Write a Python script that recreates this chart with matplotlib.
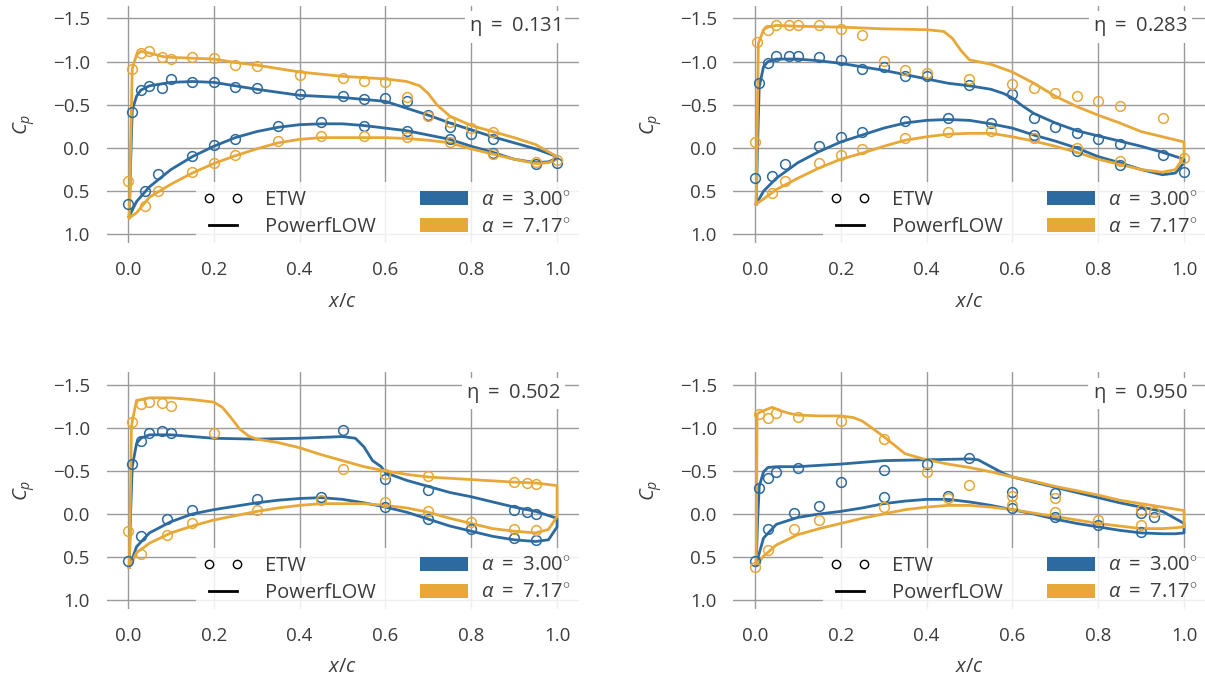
import matplotlib
matplotlib.use("Agg")
import matplotlib.pyplot as plt
from matplotlib.lines import Line2D
from matplotlib.patches import Patch
from matplotlib.legend_handler import HandlerLine2D
import numpy as np

plt.rcParams['font.family'] = ['Open Sans', 'DejaVu Sans']
plt.rcParams['mathtext.fontset'] = 'custom'
plt.rcParams['mathtext.rm'] = 'Open Sans'
plt.rcParams['mathtext.it'] = 'Open Sans:italic'

BLUE = '#2d6a9f'
ORANGE = '#e8a838'
TXT = '#3c3c3c'

ETAS = ['0.131', '0.283', '0.502', '0.950']
ALPHA_LABELS = [r'$\alpha\ =\ 3.00^{\circ}$', r'$\alpha\ =\ 7.17^{\circ}$']
XTICKS = [0.0, 0.2, 0.4, 0.6, 0.8, 1.0]
YTICKS = [-1.5, -1.0, -0.5, 0.0, 0.5, 1.0]

# ---------- PowerFLOW, lower surface (shared chord stations) ----------
LOWER_X = [0.003, 0.02, 0.05, 0.1, 0.15, 0.2, 0.25, 0.3, 0.35, 0.4, 0.45, 0.5,
           0.55, 0.6, 0.65, 0.7, 0.75, 0.8, 0.85, 0.9, 0.95, 0.98, 1.0]
P1_A3_LOW = [0.79, 0.62, 0.45, 0.25, 0.10, -0.02, -0.12, -0.19, -0.24, -0.27, -0.28, -0.28,
             -0.26, -0.23, -0.20, -0.15, -0.10, -0.02, 0.05, 0.13, 0.17, 0.16, 0.12]
P1_A7_LOW = [0.81, 0.75, 0.57, 0.42, 0.29, 0.18, 0.09, 0.01, -0.06, -0.10, -0.12, -0.12,
             -0.12, -0.12, -0.11, -0.09, -0.06, 0.01, 0.07, 0.13, 0.18, 0.17, 0.13]
P2_A3_LOW = [0.65, 0.50, 0.35, 0.17, 0.04, -0.07, -0.15, -0.23, -0.29, -0.32, -0.33, -0.32,
             -0.28, -0.23, -0.15, -0.08, 0.0, 0.10, 0.17, 0.25, 0.31, 0.29, 0.17]
P2_A7_LOW = [0.65, 0.59, 0.48, 0.35, 0.23, 0.13, 0.06, -0.02, -0.09, -0.13, -0.16, -0.17,
             -0.17, -0.13, -0.08, -0.02, 0.05, 0.13, 0.19, 0.25, 0.28, 0.25, 0.10]
P3_A3_LOW = [0.62, 0.38, 0.22, 0.09, 0.0, -0.05, -0.09, -0.13, -0.16, -0.18, -0.19, -0.17,
             -0.13, -0.08, -0.02, 0.06, 0.14, 0.20, 0.26, 0.30, 0.32, 0.30, 0.15]
P3_A7_LOW = [0.62, 0.45, 0.34, 0.22, 0.14, 0.07, 0.02, -0.03, -0.07, -0.10, -0.12, -0.12,
             -0.12, -0.10, -0.07, -0.02, 0.05, 0.11, 0.17, 0.20, 0.22, 0.18, 0.03]
P4_A3_LOW = [0.58, 0.28, 0.12, 0.04, 0.0, -0.03, -0.07, -0.12, -0.15, -0.17, -0.17, -0.14,
             -0.10, -0.05, 0.0, 0.06, 0.11, 0.15, 0.19, 0.22, 0.23, 0.23, 0.22]
P4_A7_LOW = [0.60, 0.49, 0.36, 0.24, 0.17, 0.11, 0.05, 0.0, -0.05, -0.08, -0.10, -0.10,
             -0.08, -0.05, -0.01, 0.03, 0.07, 0.11, 0.14, 0.17, 0.17, 0.16, 0.15]

# ---------- PowerFLOW, upper surface ----------
P1_A3_UP_X = [0.003, 0.006, 0.01, 0.02, 0.03, 0.05, 0.1, 0.15, 0.2, 0.25, 0.3, 0.4, 0.5,
              0.6, 0.65, 0.7, 0.75, 0.8, 0.85, 0.9, 0.95, 1.0]
P1_A3_UP = [0.79, 0.2, -0.44, -0.60, -0.67, -0.72, -0.76, -0.77, -0.76, -0.72, -0.68, -0.61,
            -0.585, -0.54, -0.46, -0.38, -0.29, -0.21, -0.13, -0.06, 0.01, 0.10]
P1_A7_UP_X = [0.003, 0.006, 0.01, 0.02, 0.03, 0.05, 0.08, 0.1, 0.2, 0.25, 0.3, 0.4, 0.5,
              0.6, 0.65, 0.68, 0.7, 0.72, 0.75, 0.8, 0.85, 0.9, 0.95, 1.0]
P1_A7_UP = [0.81, 0.0, -0.92, -1.08, -1.12, -1.10, -1.06, -1.05, -1.03, -0.99, -0.96, -0.88,
            -0.83, -0.80, -0.77, -0.72, -0.63, -0.50, -0.37, -0.26, -0.19, -0.12, -0.04, 0.10]

P2_A3_UP_X = [0.003, 0.006, 0.01, 0.02, 0.03, 0.05, 0.1, 0.15, 0.2, 0.25, 0.3, 0.35, 0.4,
              0.45, 0.5, 0.55, 0.58, 0.6, 0.62, 0.65, 0.7, 0.75, 0.8, 0.85, 0.9, 0.95, 1.0]
P2_A3_UP = [0.65, 0.0, -0.71, -0.94, -1.0, -1.03, -1.03, -1.01, -0.98, -0.94, -0.90, -0.85,
            -0.80, -0.75, -0.72, -0.68, -0.63, -0.58, -0.50, -0.40, -0.29, -0.20, -0.14,
            -0.08, -0.02, 0.05, 0.13]
P2_A7_UP_X = [0.003, 0.006, 0.008, 0.02, 0.03, 0.05, 0.1, 0.2, 0.3, 0.4, 0.44, 0.46, 0.48,
              0.5, 0.55, 0.6, 0.65, 0.7, 0.75, 0.8, 0.85, 0.9, 0.95, 1.0]
P2_A7_UP = [0.65, -0.5, -1.21, -1.37, -1.40, -1.42, -1.41, -1.40, -1.38, -1.37, -1.35, -1.27,
            -1.13, -1.02, -0.97, -0.88, -0.75, -0.60, -0.48, -0.38, -0.29, -0.19, -0.13, -0.07]

P3_A3_UP_X = [0.003, 0.006, 0.01, 0.02, 0.03, 0.05, 0.1, 0.15, 0.2, 0.3, 0.4, 0.5, 0.53,
              0.55, 0.57, 0.59, 0.6, 0.65, 0.7, 0.75, 0.8, 0.85, 0.9, 0.95, 1.0]
P3_A3_UP = [0.62, 0.0, -0.55, -0.82, -0.88, -0.92, -0.92, -0.90, -0.88, -0.87, -0.88, -0.90,
            -0.88, -0.78, -0.62, -0.55, -0.48, -0.39, -0.32, -0.25, -0.20, -0.14, -0.08,
            -0.03, 0.05]
P3_A7_UP_X = [0.003, 0.006, 0.008, 0.01, 0.02, 0.05, 0.1, 0.15, 0.2, 0.22, 0.24, 0.26, 0.28,
              0.3, 0.35, 0.4, 0.45, 0.5, 0.55, 0.6, 0.65, 0.7, 0.8, 0.9, 0.95, 1.0]
P3_A7_UP = [0.62, -0.3, -1.0, -1.08, -1.32, -1.35, -1.35, -1.33, -1.30, -1.24, -1.12, -0.99,
            -0.91, -0.87, -0.83, -0.77, -0.69, -0.62, -0.55, -0.50, -0.46, -0.43, -0.40,
            -0.37, -0.36, -0.33]

P4_A3_UP_X = [0.003, 0.006, 0.01, 0.02, 0.03, 0.05, 0.1, 0.2, 0.3, 0.4, 0.5, 0.52, 0.55,
              0.58, 0.6, 0.65, 0.7, 0.75, 0.8, 0.85, 0.9, 0.95, 1.0]
P4_A3_UP = [0.58, 0.1, -0.32, -0.49, -0.54, -0.55, -0.55, -0.58, -0.62, -0.63, -0.64, -0.63,
            -0.55, -0.47, -0.43, -0.37, -0.31, -0.25, -0.19, -0.13, -0.08, -0.03, 0.11]
P4_A7_UP_X = [0.003, 0.005, 0.01, 0.02, 0.04, 0.06, 0.08, 0.1, 0.15, 0.2, 0.23, 0.25, 0.27,
              0.3, 0.33, 0.35, 0.4, 0.45, 0.5, 0.55, 0.6, 0.65, 0.7, 0.75, 0.8, 0.85, 0.9,
              0.95, 1.0]
P4_A7_UP = [0.60, -1.16, -1.18, -1.20, -1.24, -1.20, -1.17, -1.15, -1.14, -1.14, -1.12, -1.08,
            -1.01, -0.90, -0.78, -0.70, -0.63, -0.58, -0.54, -0.49, -0.43, -0.38, -0.32,
            -0.27, -0.22, -0.16, -0.12, -0.08, -0.04]

# ---------- ETW experiment ----------
E1_A3_X = [0.01, 0.03, 0.05, 0.08, 0.1, 0.15, 0.2, 0.25, 0.3, 0.4, 0.5, 0.55, 0.6, 0.65, 0.7,
           0.75, 0.8, 0.85, 0.95, 1.0,
           0.0, 0.04, 0.07, 0.15, 0.2, 0.25, 0.35, 0.45, 0.55, 0.65, 0.75, 0.85]
E1_A3 = [-0.42, -0.67, -0.72, -0.70, -0.80, -0.77, -0.77, -0.71, -0.69, -0.62, -0.60, -0.57,
         -0.58, -0.55, -0.38, -0.24, -0.16, -0.10, 0.19, 0.17,
         0.65, 0.50, 0.30, 0.09, -0.03, -0.10, -0.26, -0.30, -0.26, -0.20, -0.10, 0.06]
E1_A7_X = [0.0, 0.01, 0.03, 0.05, 0.08, 0.1, 0.15, 0.2, 0.25, 0.3, 0.4, 0.5, 0.55, 0.6, 0.65,
           0.7, 0.75, 0.8, 0.85, 0.95, 1.0,
           0.04, 0.07, 0.15, 0.2, 0.25, 0.35, 0.45, 0.55, 0.65, 0.75, 0.85]
E1_A7 = [0.38, -0.91, -1.10, -1.12, -1.05, -1.03, -1.05, -1.04, -0.96, -0.95, -0.85, -0.81,
         -0.78, -0.76, -0.59, -0.37, -0.30, -0.23, -0.19, 0.16, 0.14,
         0.67, 0.50, 0.28, 0.17, 0.08, -0.08, -0.14, -0.14, -0.13, -0.07, 0.07]

E2_A3_X = [0.01, 0.03, 0.05, 0.08, 0.1, 0.15, 0.2, 0.25, 0.3, 0.35, 0.4, 0.5, 0.6, 0.65, 0.7,
           0.75, 0.8, 0.85, 0.95, 1.0,
           0.0, 0.04, 0.07, 0.15, 0.2, 0.25, 0.35, 0.45, 0.55, 0.65, 0.75, 0.85]
E2_A3 = [-0.75, -0.98, -1.06, -1.07, -1.07, -1.05, -1.02, -0.92, -0.94, -0.83, -0.83, -0.73,
         -0.63, -0.35, -0.24, -0.17, -0.10, -0.05, 0.08, 0.28,
         0.35, 0.33, 0.19, -0.02, -0.13, -0.18, -0.31, -0.35, -0.29, -0.15, 0.04, 0.20]
E2_A7_X = [0.005, 0.03, 0.05, 0.08, 0.1, 0.15, 0.2, 0.25, 0.3, 0.35, 0.4, 0.5, 0.6, 0.65, 0.7,
           0.75, 0.8, 0.85, 0.95, 1.0,
           0.0, 0.04, 0.07, 0.15, 0.2, 0.25, 0.35, 0.45, 0.55, 0.65, 0.75, 0.85]
E2_A7 = [-1.23, -1.37, -1.42, -1.42, -1.42, -1.42, -1.38, -1.31, -1.01, -0.90, -0.87, -0.80,
         -0.74, -0.69, -0.64, -0.60, -0.55, -0.49, -0.35, 0.12,
         -0.07, 0.52, 0.38, 0.17, 0.08, 0.01, -0.12, -0.18, -0.20, -0.12, 0.0, 0.15]

E3_A3_X = [0.01, 0.03, 0.05, 0.08, 0.1, 0.5, 0.6, 0.7, 0.9, 0.93, 0.95,
           0.0, 0.03, 0.09, 0.15, 0.3, 0.45, 0.6, 0.7, 0.8, 0.9, 0.95]
E3_A3 = [-0.58, -0.85, -0.94, -0.96, -0.94, -0.98, -0.41, -0.28, -0.05, -0.02, 0.0,
         0.55, 0.26, 0.06, -0.05, -0.17, -0.20, -0.08, 0.06, 0.18, 0.28, 0.30]
E3_A7_X = [0.01, 0.03, 0.05, 0.08, 0.1, 0.2, 0.5, 0.6, 0.7, 0.9, 0.93, 0.95,
           0.0, 0.03, 0.09, 0.15, 0.3, 0.45, 0.6, 0.7, 0.8, 0.9, 0.95]
E3_A7 = [-1.07, -1.28, -1.30, -1.29, -1.26, -0.94, -0.52, -0.47, -0.44, -0.37, -0.36, -0.35,
         0.20, 0.47, 0.24, 0.11, -0.05, -0.16, -0.14, -0.04, 0.09, 0.18, 0.19]

E4_A3_X = [0.01, 0.03, 0.05, 0.1, 0.2, 0.3, 0.4, 0.5, 0.6, 0.7, 0.9, 0.93,
           0.0, 0.03, 0.09, 0.15, 0.3, 0.45, 0.6, 0.7, 0.8, 0.9]
E4_A3 = [-0.30, -0.42, -0.49, -0.53, -0.37, -0.51, -0.58, -0.65, -0.25, -0.24, -0.01, 0.03,
         0.55, 0.18, -0.01, -0.09, -0.20, -0.21, -0.07, 0.03, 0.13, 0.21]
E4_A7_X = [0.01, 0.03, 0.05, 0.1, 0.2, 0.3, 0.4, 0.5, 0.6, 0.7, 0.9, 0.93,
           0.0, 0.03, 0.09, 0.15, 0.3, 0.45, 0.6, 0.7, 0.8, 0.9]
E4_A7 = [-1.16, -1.12, -1.17, -1.13, -1.08, -0.87, -0.49, -0.34, -0.21, -0.18, -0.05, -0.02,
         0.62, 0.42, 0.18, 0.07, -0.08, -0.18, -0.10, -0.02, 0.07, 0.13]

PANELS = [
    (P1_A3_UP_X, P1_A3_UP, P1_A3_LOW, E1_A3_X, E1_A3, P1_A7_UP_X, P1_A7_UP, P1_A7_LOW, E1_A7_X, E1_A7),
    (P2_A3_UP_X, P2_A3_UP, P2_A3_LOW, E2_A3_X, E2_A3, P2_A7_UP_X, P2_A7_UP, P2_A7_LOW, E2_A7_X, E2_A7),
    (P3_A3_UP_X, P3_A3_UP, P3_A3_LOW, E3_A3_X, E3_A3, P3_A7_UP_X, P3_A7_UP, P3_A7_LOW, E3_A7_X, E3_A7),
    (P4_A3_UP_X, P4_A3_UP, P4_A3_LOW, E4_A3_X, E4_A3, P4_A7_UP_X, P4_A7_UP, P4_A7_LOW, E4_A7_X, E4_A7),
]


class LeftLineHandler(HandlerLine2D):
    """Draw the line/marker handle in the left part of the handle box."""
    def get_xdata(self, legend, xdescent, ydescent, width, height, fontsize):
        n = self.get_numpoints(legend)
        x = np.linspace(-xdescent + 0.10 * width, -xdescent + 0.68 * width, n)
        return x, x


fig = plt.figure(figsize=(12.05, 6.81), dpi=100)
positions = [
    [0.0884, 0.6432, 0.3917, 0.3487],
    [0.6087, 0.6432, 0.3917, 0.3487],
    [0.0884, 0.1063, 0.3917, 0.3474],
    [0.6087, 0.1063, 0.3917, 0.3474],
]

for i, pos in enumerate(positions):
    ax = fig.add_axes(pos)
    d = PANELS[i]
    series = [(d[0], d[1], d[2], d[3], d[4], BLUE), (d[5], d[6], d[7], d[8], d[9], ORANGE)]
    for upx, upc, lowc, ex, ec, col in series:
        xs = list(upx) + LOWER_X[::-1]
        cs = list(upc) + lowc[::-1]
        ax.plot(xs, cs, color=col, lw=2.0, solid_joinstyle='round', zorder=3)
    for upx, upc, lowc, ex, ec, col in series:
        ax.plot(ex, ec, 'o', mfc='none', mec=col, ms=7, mew=1.1, zorder=4)

    ax.set_xlim(-0.05, 1.05)
    ax.set_ylim(1.1, -1.65)
    ax.set_xticks(XTICKS)
    ax.set_yticks(YTICKS)
    ax.set_xticklabels([f'{v:.1f}' for v in XTICKS])
    ax.set_yticklabels([f'{v:.1f}'.replace('-', '\u2212') for v in YTICKS])
    ax.grid(True, color='#9a9a9a', lw=1.0)
    ax.set_axisbelow(True)
    for s in ax.spines.values():
        s.set_visible(False)
    ax.tick_params(axis='both', length=0, labelsize=13.5, colors=TXT)
    ax.tick_params(axis='y', pad=12)
    ax.tick_params(axis='x', pad=13)
    ax.set_xlabel(r'$x/c$', fontsize=14.5, color=TXT, labelpad=9)
    ax.set_ylabel(r'$C_p$', fontsize=14.5, color=TXT, labelpad=11)

    ax.text(0.962, 0.91, r'$\mathregular{η\ =\ ' + ETAS[i] + '}$', transform=ax.transAxes,
            ha='right', va='center', fontsize=14.5, color=TXT, zorder=6,
            bbox=dict(facecolor='white', edgecolor='none', pad=3))

    line_etw = Line2D([], [], marker='o', ls='none', mfc='none', mec='black', ms=6, mew=1.0)
    line_pf = Line2D([], [], color='black', lw=2.0)
    handles = [line_etw, line_pf,
               Patch(facecolor=BLUE, edgecolor='none'),
               Patch(facecolor=ORANGE, edgecolor='none')]
    labels = ['ETW', 'PowerfLOW', ALPHA_LABELS[0], ALPHA_LABELS[1]]
    leg = ax.legend(handles, labels, ncol=2, loc='lower right', bbox_to_anchor=(1.0, -0.01),
                    borderaxespad=0.0, fontsize=14.5, numpoints=2, handlelength=2.4,
                    columnspacing=2.2, labelspacing=0.35, handletextpad=0.6,
                    handler_map={line_etw: LeftLineHandler(), line_pf: LeftLineHandler()},
                    frameon=True, fancybox=False, framealpha=0.85, edgecolor='none')
    for t in leg.get_texts():
        t.set_color(TXT)
    leg.set_zorder(5)

fig.savefig('out.png', dpi=100)
